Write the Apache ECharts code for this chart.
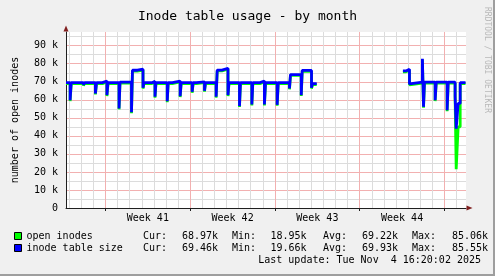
<!DOCTYPE html>
<html><head><meta charset="utf-8">
<script src="https://cdn.jsdelivr.net/npm/echarts@6/dist/echarts.min.js"></script>
<style>html,body{margin:0;padding:0;background:#f0f0f0}#c{width:495px;height:276px}</style>
</head><body><div id="c"></div>
<script>
// time in days since Mon 2025-09-29 00:00, values in thousands
const times = [3.74,4.08,4.17,5.18,5.27,6.17,6.26,6.75,7.12,7.21,8.12,8.20,9.15,9.23,9.64,10.10,10.18,10.84,11.09,11.17,
  12.10,12.18,12.53,13.17,13.25,14.16,14.24,14.52,15.18,15.26,16.14,16.23,16.62,17.12,17.20,18.07,18.15,19.09,19.17,19.76,
  20.13,20.22,21.18,21.27,22.20,22.28,23.17,23.25,24.02,24.10,24.39,24.45,
  31.57,31.82,32.11,32.19,33.18,33.27,33.35,34.23,34.32,35.22,35.31,35.88,35.97,36.13,36.30,36.74];
const tableSize = [69.5,59.8,69.5,68.3,69.5,63.5,69.5,70.4,62.6,69.5,55.2,69.8,53.1,76.4,77.0,66.7,69.5,70.2,61.7,69.5,
  59.2,69.5,70.4,62.0,69.5,64.4,69.5,70.0,65.0,69.5,61.7,76.5,77.5,62.6,69.5,56.5,69.5,57.4,69.5,70.4,
  57.4,69.5,57.2,69.5,66.3,74.0,62.6,76.3,66.7,69.0,69.0,null,
  76.0,76.9,68.8,69.8,82.8,56.1,69.8,59.8,69.8,54.2,69.8,62.0,44.0,58.0,69.5,69.5];
const openInodes = [69.0,59.3,69.0,67.8,69.0,63.0,69.0,69.9,62.1,69.0,54.7,69.3,52.6,75.9,76.5,66.2,69.0,69.7,61.2,69.0,
  58.7,69.0,69.9,61.5,69.0,63.9,69.0,69.5,64.5,69.0,61.2,76.0,77.0,62.1,69.0,56.0,69.0,56.9,69.0,69.9,
  56.9,69.0,56.7,69.0,65.8,73.5,62.1,75.8,66.2,68.5,68.5,null,
  75.5,76.4,68.3,69.3,82.3,55.6,69.3,59.3,69.3,53.7,69.3,61.0,21.5,45.0,69.0,69.0];
const weekStarts = [7,14,21,28,35];
const dayLines = [4,5,6,8,9,10,11,12,13,15,16,17,18,19,20,22,23,24,25,26,27,29,30,31,32,33,34,36];
const weekLabelPos = [10.5,17.5,24.5,31.5];
const weekLabels = ['Week 41','Week 42','Week 43','Week 44'];
const yMinorLines = [5,15,25,35,45,55,65,75,85,95];
const seriesNames = ['open inodes','inode table size'];
const statNames = ['Cur:','Min:','Avg:','Max:'];
const openStats = ['68.97k','18.95k','69.22k','85.06k'];
const tableStats = ['69.46k','19.66k','69.93k','85.55k'];
const lastUpdate = 'Last update: Tue Nov  4 16:20:02 2025';

const MONO = "'DejaVu Sans Mono', monospace";
const X_MIN = 3.74, X_MAX = 36.78, Y_MAX = 97.6;
const statLabelX = [143,232,323,412], statValueX = [218,306.5,398,488];
const rowY = [236.5,248.5];

const graphics = [
  {type:'rect', shape:{x:493,y:0,width:2,height:276}, style:{fill:'#9e9e9e'}, silent:true},
  {type:'rect', shape:{x:0,y:274,width:495,height:2}, style:{fill:'#9e9e9e'}, silent:true},
  {type:'text', x:487, y:7, rotation:-Math.PI/2, style:{text:'RRDTOOL / TOBI OETIKER', font:'8px '+MONO, fill:'#b8b8b8', align:'left', verticalAlign:'middle'}, silent:true},
  {type:'text', x:481, y:260.5, style:{text:lastUpdate, font:'10px '+MONO, fill:'#000', align:'right', verticalAlign:'middle'}, silent:true}
];
[openStats, tableStats].forEach((row, r) => {
  row.forEach((val, i) => {
    graphics.push({type:'text', x:statLabelX[i], y:rowY[r], style:{text:statNames[i], font:'10px '+MONO, fill:'#000', align:'left', verticalAlign:'middle'}, silent:true});
    graphics.push({type:'text', x:statValueX[i], y:rowY[r], style:{text:val, font:'10px '+MONO, fill:'#000', align:'right', verticalAlign:'middle'}, silent:true});
  });
});

const chart = echarts.init(document.getElementById('c'), null, {renderer:'canvas'});
chart.setOption({
  animation:false,
  backgroundColor:'#f0f0f0',
  title:{text:'Inode table usage - by month', left:'center', top:10, padding:0,
    textStyle:{fontFamily:MONO, fontSize:13, fontWeight:'normal', color:'#000'}},
  grid:{left:66, right:29, top:32, bottom:68, show:true, backgroundColor:'#fff', borderWidth:0, outerBoundsMode:'none'},
  legend:{orient:'vertical', left:14, top:230, padding:0, itemGap:0, itemWidth:7, itemHeight:7, icon:'rect',
    itemStyle:{borderColor:'#000', borderWidth:1}, selectedMode:false,
    textStyle:{fontFamily:MONO, fontSize:10, color:'#000', lineHeight:12}, data:seriesNames},
  xAxis:[
    {type:'value', min:X_MIN, max:X_MAX, position:'bottom',
     axisLine:{show:true, onZero:false, lineStyle:{color:'#1f1f1f', width:1}},
     axisTick:{show:true, customValues:weekStarts, length:3, lineStyle:{color:'#1f1f1f'}},
     axisLabel:{customValues:weekLabelPos, formatter:v => { const i = weekLabelPos.indexOf(v); return i >= 0 ? weekLabels[i] : ''; },
       fontFamily:MONO, fontSize:10, color:'#000', margin:5},
     splitLine:{show:true, lineStyle:{color:'#f2b0b0', width:1}}},
    {type:'value', min:X_MIN, max:X_MAX, position:'bottom',
     axisLine:{show:true, onZero:false, symbol:['none','triangle'], symbolSize:[5,6], symbolOffset:[0,3.5], lineStyle:{color:'#801f1f', width:0}},
     axisTick:{show:false, customValues:dayLines}, axisLabel:{show:false},
     splitLine:{show:true, lineStyle:{color:'#dcdcdc', width:1}}}
  ],
  yAxis:[
    {type:'value', min:0, max:Y_MAX, interval:10, position:'left',
     name:'number of open inodes', nameLocation:'middle', nameRotate:90, nameGap:46,
     nameTextStyle:{fontFamily:MONO, fontSize:10, color:'#000'},
     axisLine:{show:true, lineStyle:{color:'#1f1f1f', width:1}}, axisTick:{show:false},
     axisLabel:{fontFamily:MONO, fontSize:10, color:'#000', margin:8, showMaxLabel:false,
       formatter:v => (v % 10 !== 0) ? '' : (v === 0 ? '0' : v + ' k')},
     splitLine:{show:true, showMaxLine:false, lineStyle:{color:'#f2b0b0', width:1}}},
    {type:'value', min:0, max:Y_MAX, position:'left',
     axisLine:{show:true, symbol:['none','triangle'], symbolSize:[5,6], symbolOffset:[0,3.5], lineStyle:{color:'#801f1f', width:0}},
     axisTick:{show:false, customValues:yMinorLines}, axisLabel:{show:false},
     splitLine:{show:true, lineStyle:{color:'#dcdcdc', width:1}}}
  ],
  series:[
    {name:seriesNames[0], type:'line', xAxisIndex:0, yAxisIndex:0, step:'end', showSymbol:false, symbol:'none', silent:true,
     data:times.map((t,i) => [t, openInodes[i]]), lineStyle:{color:'#00ff00', width:2.8}, itemStyle:{color:'#00ff00'}},
    {name:seriesNames[1], type:'line', xAxisIndex:0, yAxisIndex:0, step:'end', showSymbol:false, symbol:'none', silent:true,
     data:times.map((t,i) => [t, tableSize[i]]), lineStyle:{color:'#0000ff', width:2.8}, itemStyle:{color:'#0000ff'}}
  ],
  graphic:graphics
});
</script></body></html>
